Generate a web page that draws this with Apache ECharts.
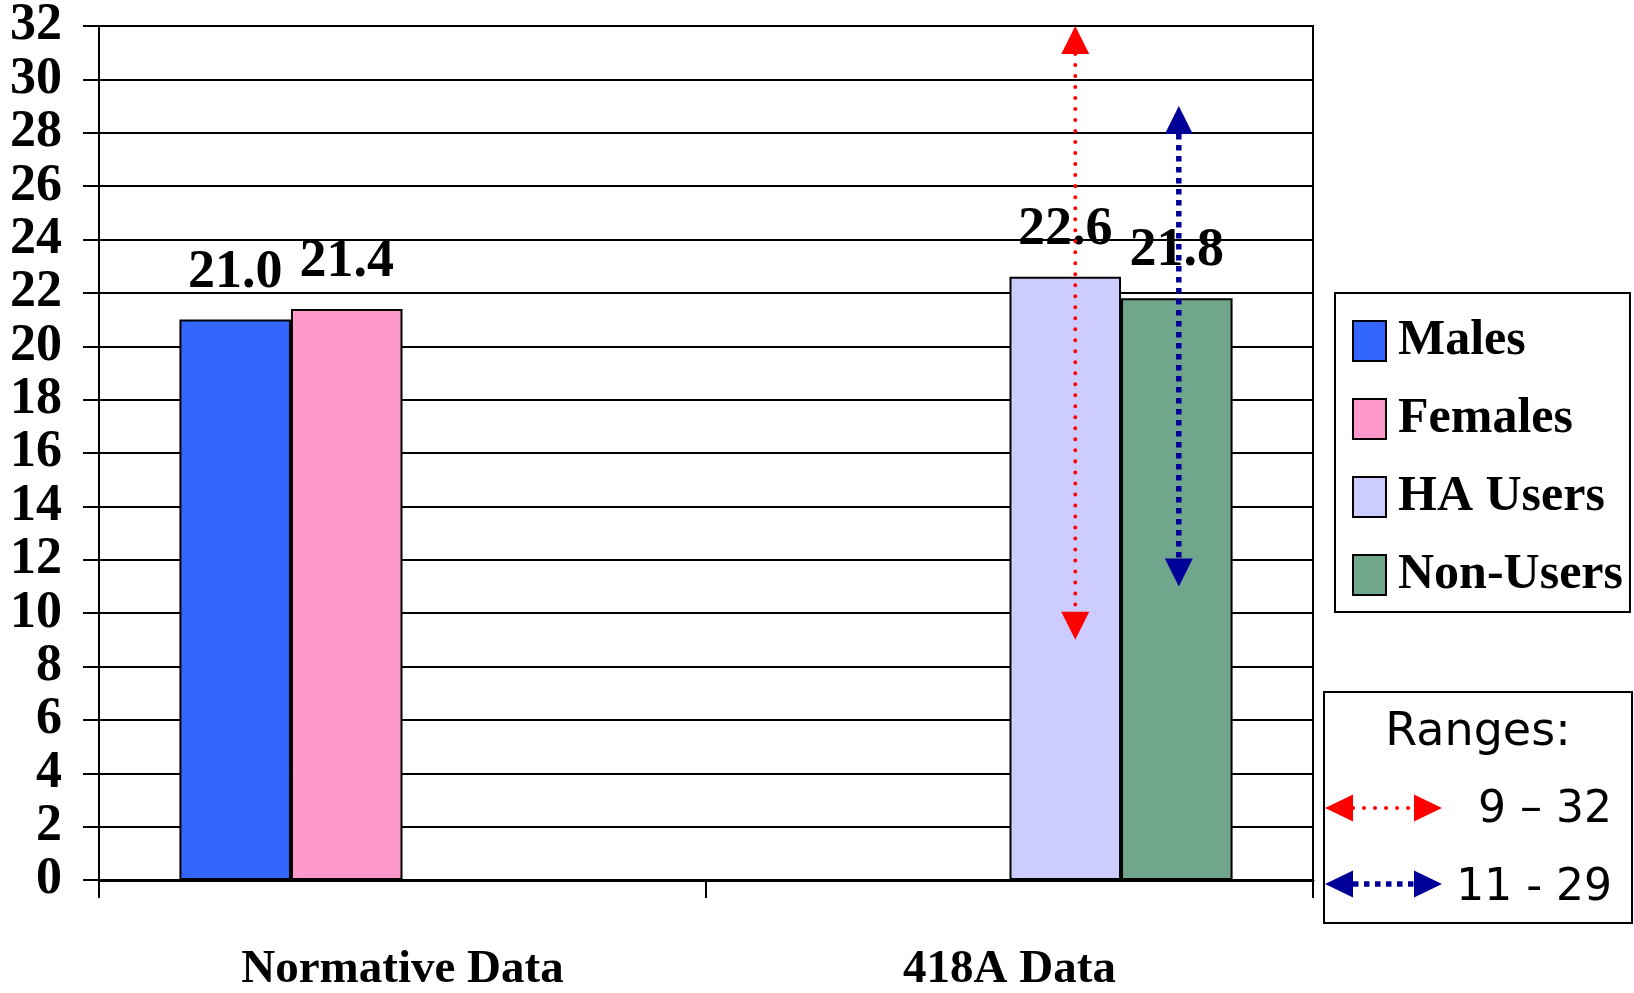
<!DOCTYPE html>
<html><head><meta charset="utf-8">
<script src="https://cdn.jsdelivr.net/npm/echarts@6/dist/echarts.min.js"></script>
<style>html,body{margin:0;padding:0;background:#fff}#c{width:1634px;height:993px}</style>
</head><body><div id="c"></div>
<script>
// ---- data ----
const categories = ['Normative Data', '418A Data'];
const seriesNames = ['Males', 'Females', 'HA Users', 'Non-Users'];
const males = [21.0, null];
const females = [21.4, null];
const haUsers = [null, 22.6];
const nonUsers = [null, 21.8];
const yMin = 0, yMax = 32, yInterval = 2;
const rangeCategory = ['418A Data', '418A Data'];
const rangeSeries = ['HA Users', 'Non-Users'];
const rangeLow = [9, 11];
const rangeHigh = [32, 29];
const rangeTitle = 'Ranges:';
const rangeLabels = ['9 – 32', '11 - 29'];

// ---- style ----
const barColors = ['#3366FF', '#FF99CC', '#CCCCFF', '#70A68B'];
const rangeColors = ['#FF0000', '#000099'];
const arrowNudge = [10, 2];
const CAT_GAP = 0.265;
const SERIF = '"Liberation Serif", "Times New Roman", serif';
const SANS = '"DejaVu Sans", Verdana, sans-serif';

function arrowLineStyle(i) {
  return i === 0
    ? { stroke: rangeColors[0], lineWidth: 4, lineDash: [0.01, 11], lineCap: 'round' }
    : { stroke: rangeColors[1], lineWidth: 5.5, lineDash: [5.5, 5.5], lineCap: 'butt' };
}

const values = [males, females, haUsers, nonUsers];
const barSeries = seriesNames.map((name, s) => ({
  name, type: 'bar', data: values[s],
  barGap: '0%', barCategoryGap: (CAT_GAP * 100) + '%',
  itemStyle: { color: barColors[s], borderColor: '#000', borderWidth: 2 },
  label: {
    show: true, position: 'top', distance: 20,
    formatter: p => p.value == null ? '' : p.value.toFixed(1),
    fontFamily: SERIF, fontWeight: 'bold', fontSize: 54, color: '#000'
  },
  z: 2
}));

function renderArrow(params, api) {
  const i = params.dataIndex;
  const bw = api.size([1, 0])[0];
  const gw = bw * (1 - CAT_GAP);
  const k = seriesNames.indexOf(rangeSeries[i]);
  const off = -gw / 2 + (k + 0.5) * gw / seriesNames.length + arrowNudge[i];
  const top = api.coord([api.value(0), api.value(2)]);
  const bot = api.coord([api.value(0), api.value(1)]);
  const x = top[0] + off;
  const h = 28, w = 28;
  const col = rangeColors[i];
  return { type: 'group', children: [
    { type: 'line', shape: { x1: x, y1: top[1] + h, x2: x, y2: bot[1] - h }, style: arrowLineStyle(i) },
    { type: 'polygon', shape: { points: [[x, top[1]], [x - w / 2, top[1] + h], [x + w / 2, top[1] + h]] }, style: { fill: col } },
    { type: 'polygon', shape: { points: [[x, bot[1]], [x - w / 2, bot[1] - h], [x + w / 2, bot[1] - h]] }, style: { fill: col } }
  ]};
}

const arrowSeries = {
  name: 'ranges', type: 'custom', renderItem: renderArrow,
  data: rangeCategory.map((c, i) => [c, rangeLow[i], rangeHigh[i]]),
  encode: { x: 0, y: [1, 2] }, z: 10, silent: true
};

// Ranges key box
function keyArrow(i, y) {
  const x1 = 1325, x2 = 1442, w = 28, h = 27;
  const col = rangeColors[i];
  return [
    { type: 'line', shape: { x1: x1 + w, y1: y, x2: x2 - w, y2: y }, style: arrowLineStyle(i) },
    { type: 'polygon', shape: { points: [[x1, y], [x1 + w, y - h / 2], [x1 + w, y + h / 2]] }, style: { fill: col } },
    { type: 'polygon', shape: { points: [[x2, y], [x2 - w, y - h / 2], [x2 - w, y + h / 2]] }, style: { fill: col } }
  ];
}
const keyRows = [808, 884];
const keyTextRows = [811, 889];
const graphic = [
  { type: 'rect', shape: { x: 1324, y: 692, width: 308, height: 231 }, style: { fill: '#fff', stroke: '#000', lineWidth: 2 } },
  { type: 'text', x: 1478, y: 733, style: { text: rangeTitle, font: '46px ' + SANS, fill: '#000', align: 'center', verticalAlign: 'middle' } }
];
rangeLabels.forEach((t, i) => {
  keyArrow(i, keyRows[i]).forEach(g => graphic.push(g));
  graphic.push({ type: 'text', x: 1612, y: keyTextRows[i], style: { text: t, font: '44px ' + SANS, fill: '#000', align: 'right', verticalAlign: 'middle' } });
});

const chart = echarts.init(document.getElementById('c'), null, { renderer: 'canvas' });
chart.setOption({
  animation: false,
  backgroundColor: '#fff',
  grid: { left: 99, right: 321, top: 25, bottom: 111, show: true, borderColor: '#000', borderWidth: 2, backgroundColor: 'transparent' },
  legend: {
    data: seriesNames, orient: 'vertical', left: 1335, top: 293,
    backgroundColor: '#fff', borderColor: '#000', borderWidth: 2,
    padding: [23, 7, 12, 17], itemWidth: 33, itemHeight: 40, itemGap: 28,
    icon: 'rect',
    itemStyle: { borderColor: '#000', borderWidth: 2 },
    textStyle: { fontFamily: SERIF, fontWeight: 'bold', fontSize: 50, color: '#000', padding: [0, 0, 0, 7] }
  },
  xAxis: {
    type: 'category', data: categories,
    axisLine: { lineStyle: { color: '#000', width: 3 } },
    axisTick: { show: true, length: 18, lineStyle: { color: '#000', width: 2 } },
    axisLabel: { margin: 66, fontFamily: SERIF, fontWeight: 'bold', fontSize: 47, color: '#000' },
    splitLine: { show: false }
  },
  yAxis: {
    type: 'value', min: yMin, max: yMax, interval: yInterval,
    axisLine: { show: true, lineStyle: { color: '#000', width: 2 } },
    axisTick: { show: true, length: 16, lineStyle: { color: '#000', width: 2 } },
    axisLabel: { margin: 37, fontFamily: SERIF, fontWeight: 'bold', fontSize: 52, color: '#000' },
    splitLine: { show: true, lineStyle: { color: '#000', width: 2 } }
  },
  series: barSeries.concat([arrowSeries]),
  graphic
});
</script></body></html>
